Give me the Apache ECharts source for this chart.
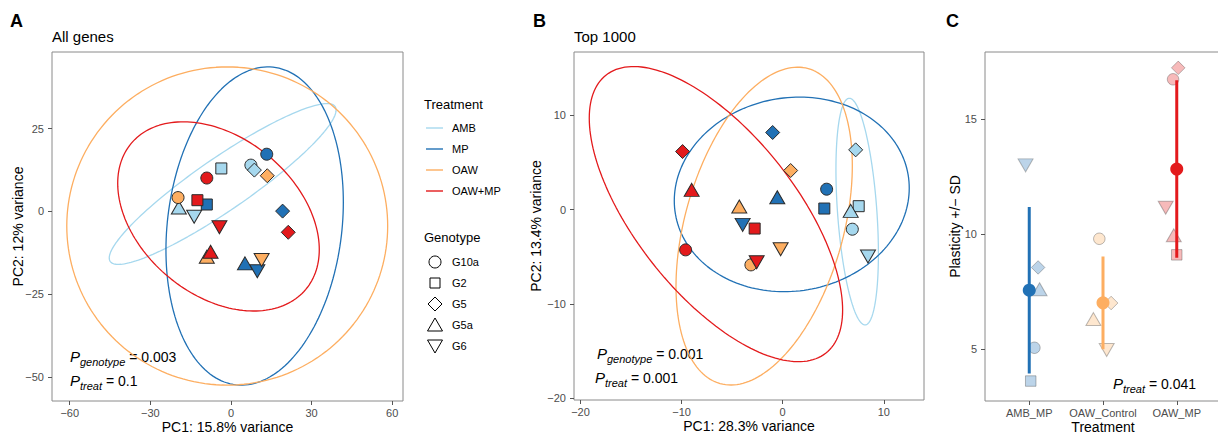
<!DOCTYPE html>
<html><head><meta charset="utf-8">
<script src="https://cdn.jsdelivr.net/npm/echarts@6/dist/echarts.min.js"></script>
<style>html,body{margin:0;padding:0;background:#fff}#c{width:1218px;height:434px}</style>
</head><body><div id="c"></div>
<script>
// ---------------- DATA ----------------
const treatments = ['AMB', 'MP', 'OAW', 'OAW+MP'];
const genotypes = ['G10a', 'G2', 'G5', 'G5a', 'G6'];

// Panel A (All genes): [PC1, PC2, genotype]
const allGenes_AMB   = [[7.4, 14.0, 'G10a'], [-3.6, 13.0, 'G2'], [8.7, 12.5, 'G5'], [-19.4, 1.2, 'G5a'], [-13.7, -1.6, 'G6']];
const allGenes_MP    = [[13.3, 17.3, 'G10a'], [-9.0, 2.1, 'G2'], [19.2, 0.1, 'G5'], [5.2, -15.7, 'G5a'], [9.8, -18.1, 'G6']];
const allGenes_OAW   = [[-19.7, 4.2, 'G10a'], [13.5, 10.8, 'G5'], [-9.0, -13.7, 'G5a'], [11.4, -14.7, 'G6']];
const allGenes_OAWMP = [[-9.0, 10.1, 'G10a'], [-12.5, 3.4, 'G2'], [21.3, -6.3, 'G5'], [-7.6, -12.2, 'G5a'], [-4.3, -4.8, 'G6']];

// Panel B (Top 1000): [PC1, PC2, genotype]
const top1000_AMB   = [[6.89, -2.08, 'G10a'], [7.52, 0.36, 'G2'], [7.22, 6.33, 'G5'], [6.73, -0.14, 'G5a'], [8.44, -4.98, 'G6']];
const top1000_MP    = [[4.35, 2.16, 'G10a'], [4.12, 0.11, 'G2'], [-0.99, 8.17, 'G5'], [-0.53, 1.31, 'G5a'], [-3.96, -1.62, 'G6']];
const top1000_OAW   = [[-3.14, -5.86, 'G10a'], [0.79, 4.14, 'G5'], [-4.29, 0.32, 'G5a'], [-0.2, -4.2, 'G6']];
const top1000_OAWMP = [[-9.6, -4.27, 'G10a'], [-2.77, -2.01, 'G2'], [-9.9, 6.15, 'G5'], [-9.0, 2.09, 'G5a'], [-2.57, -5.58, 'G6']];

// 95% ellipses: [centre x, centre y, half-range x, half-range y, correlation]
const ellipsesA = [[-3.1, 8.3, 42.2, 24.3, 0.92], [8.8, -4.4, 33.0, 48.1, 0.15], [-1.4, -4.4, 59.7, 48.1, 0.0], [-4.65, -1.5, 37.5, 28.6, -0.35]];
const ellipsesB = [[7.37, -0.21, 2.10, 12.01, -0.37], [0.9, 1.61, 11.62, 10.31, 0.065], [-1.83, -1.75, 8.72, 16.84, 0.38], [-6.6, -0.48, 12.53, 15.64, -0.65]];

// Panel C (Plasticity)
const plasticityGroups = ['AMB_MP', 'OAW_Control', 'OAW_MP'];
const plasticity_AMB_MP = [13.0, 8.55, 7.6, 5.05, 3.6];
const genotype_AMB_MP   = ['G6', 'G5', 'G5a', 'G10a', 'G2'];
const jitter_AMB_MP     = [-0.05, 0.12, 0.14, 0.07, 0.02];
const plasticity_OAW_Control = [9.8, 7.0, 6.3, 4.95];
const genotype_OAW_Control   = ['G10a', 'G5', 'G5a', 'G6'];
const jitter_OAW_Control     = [-0.05, 0.11, -0.13, 0.05];
const plasticity_OAW_MP = [17.25, 16.75, 11.15, 9.95, 9.1];
const genotype_OAW_MP   = ['G5', 'G10a', 'G6', 'G5a', 'G2'];
const jitter_OAW_MP     = [0.02, -0.05, -0.15, -0.04, 0.0];
const plasticityMean = [7.56, 7.01, 12.84];
const plasticitySD   = [3.63, 2.02, 3.87];

const ticksA_x = [-60, -30, 0, 30, 60];
const ticksA_y = [-50, -25, 0, 25];
const ticksB_x = [-20, -10, 0, 10];
const ticksB_y = [-20, -10, 0, 10];
const ticksC_y = [5, 10, 15];

// ---------------- STYLE ----------------
const FONT = "'Liberation Sans', Arial, Helvetica, sans-serif";
const COLORS = { 'AMB': '#a6d8ee', 'MP': '#2171b5', 'OAW': '#fdae61', 'OAW+MP': '#e31a1c' };
const C_COLORS = ['#2171b5', '#fdae61', '#e31a1c'];
const SHAPES = {
  G10a: { symbol: 'circle', size: 12, rot: 0 },
  G2:   { symbol: 'rect', size: 11, rot: 0 },
  G5:   { symbol: 'diamond', size: 14, rot: 0 },
  G5a:  { symbol: 'triangle', size: [15, 13], rot: 0 },
  G6:   { symbol: 'triangle', size: [15, 13], rot: 180 }
};
const minus = v => String(v).replace('-', '\u2212');

function ellipsePoints(p) {
  const [cx, cy, rx, ry, rho] = p;
  const pts = [];
  const s = Math.sqrt(1 - rho * rho);
  for (let i = 0; i <= 180; i++) {
    const t = i / 180 * 2 * Math.PI;
    pts.push([cx + rx * Math.cos(t), cy + ry * (rho * Math.cos(t) + s * Math.sin(t))]);
  }
  return pts;
}

function pcaScatter(data, treat, idx) {
  return {
    type: 'scatter', xAxisIndex: idx, yAxisIndex: idx, z: 5, animation: false,
    data: data.map(d => ({
      value: [d[0], d[1]],
      symbol: SHAPES[d[2]].symbol, symbolSize: SHAPES[d[2]].size, symbolRotate: SHAPES[d[2]].rot,
      itemStyle: { color: COLORS[treat], borderColor: '#2b2b2b', borderWidth: 1, opacity: 1 }
    }))
  };
}
function ellipseSeries(p, treat, idx) {
  return {
    type: 'line', xAxisIndex: idx, yAxisIndex: idx, z: 2, animation: false, silent: true,
    showSymbol: false, symbol: 'none', data: ellipsePoints(p),
    lineStyle: { color: COLORS[treat], width: 1.3 }
  };
}

const tickLabel = { color: '#4d4d4d', fontSize: 11, fontFamily: FONT };
function valueAxis(idx, min, max, ticks, name, gap, margin) {
  return {
    type: 'value', gridIndex: idx, min: min, max: max,
    name: name, nameLocation: 'middle', nameGap: gap, nameMoveOverlap: false,
    nameTextStyle: { color: '#000', fontSize: 14, fontFamily: FONT },
    axisLine: { show: false, onZero: false },
    axisTick: { show: true, length: 4, lineStyle: { color: '#555' }, customValues: ticks },
    axisLabel: Object.assign({ margin: margin, customValues: ticks, formatter: v => minus(v) }, tickLabel),
    splitLine: { show: false }
  };
}

const series = [];
const panelA = [allGenes_AMB, allGenes_MP, allGenes_OAW, allGenes_OAWMP];
const panelB = [top1000_AMB, top1000_MP, top1000_OAW, top1000_OAWMP];
treatments.forEach((t, i) => {
  series.push(ellipseSeries(ellipsesA[i], t, 0));
  series.push(ellipseSeries(ellipsesB[i], t, 1));
});
treatments.forEach((t, i) => {
  series.push(pcaScatter(panelA[i], t, 0));
  series.push(pcaScatter(panelB[i], t, 1));
});

// Panel C
const cVals = [plasticity_AMB_MP, plasticity_OAW_Control, plasticity_OAW_MP];
const cGeno = [genotype_AMB_MP, genotype_OAW_Control, genotype_OAW_MP];
const cJit  = [jitter_AMB_MP, jitter_OAW_Control, jitter_OAW_MP];
const fade = (hex, a) => {
  const n = parseInt(hex.slice(1), 16);
  return `rgba(${(n >> 16) & 255},${(n >> 8) & 255},${n & 255},${a})`;
};
plasticityGroups.forEach((g, i) => {
  series.push({
    type: 'scatter', xAxisIndex: 2, yAxisIndex: 2, z: 3, animation: false,
    data: cVals[i].map((v, k) => ({
      value: [i + 1 + cJit[i][k], v],
      symbol: SHAPES[cGeno[i][k]].symbol,
      symbolSize: Array.isArray(SHAPES[cGeno[i][k]].size) ? SHAPES[cGeno[i][k]].size : SHAPES[cGeno[i][k]].size - 0.5,
      symbolRotate: SHAPES[cGeno[i][k]].rot,
      itemStyle: { color: fade(C_COLORS[i], 0.3), borderColor: 'rgba(60,60,60,0.35)', borderWidth: 1, opacity: 1 }
    }))
  });
  series.push({
    type: 'line', xAxisIndex: 2, yAxisIndex: 2, z: 4, animation: false, silent: true,
    showSymbol: false, symbol: 'none',
    data: [[i + 1, plasticityMean[i] - plasticitySD[i]], [i + 1, plasticityMean[i] + plasticitySD[i]]],
    lineStyle: { color: C_COLORS[i], width: 3 }
  });
  series.push({
    type: 'scatter', xAxisIndex: 2, yAxisIndex: 2, z: 5, animation: false,
    data: [[i + 1, plasticityMean[i]]], symbol: 'circle', symbolSize: 13,
    itemStyle: { color: C_COLORS[i], opacity: 1 }
  });
});

// ---------------- GRAPHICS (titles, legend, annotations) ----------------
const txt = (x, y, text, opts) => ({
  type: 'text', x: x, y: y, silent: true,
  style: Object.assign({ text: text, fill: '#000', font: `14px ${FONT}`, align: 'left', verticalAlign: 'middle', textAlign: 'left', textVerticalAlign: 'middle' }, opts || {})
});
const richP = {
  p: { fontSize: 15, fontStyle: 'italic', fontFamily: FONT, color: '#000', padding: [0, 0, 4, 0], verticalAlign: 'bottom' },
  s: { fontSize: 11, fontStyle: 'italic', fontFamily: FONT, color: '#000', verticalAlign: 'bottom' },
  v: { fontSize: 14, fontFamily: FONT, color: '#000', padding: [0, 0, 4, 0], verticalAlign: 'bottom' }
};
const pAnn = (x, y, sub, val) => ({
  type: 'text', x: x, y: y, silent: true,
  style: { text: `{p|P}{s|${sub}}{v| = ${val}}`, rich: richP, align: 'left', verticalAlign: 'middle', textAlign: 'left', textVerticalAlign: 'middle' }
});

const graphics = [
  txt(10, 21, 'A', { font: `bold 18px ${FONT}` }),
  txt(533, 21, 'B', { font: `bold 18px ${FONT}` }),
  txt(946, 21, 'C', { font: `bold 18px ${FONT}` }),
  txt(52, 36, 'All genes', { font: `15px ${FONT}` }),
  txt(574, 36, 'Top 1000', { font: `15px ${FONT}` }),
  txt(424, 104, 'Treatment', { font: `13px ${FONT}` }),
  txt(424, 237, 'Genotype', { font: `13px ${FONT}` }),
  pAnn(70, 358, 'genotype', '0.003'),
  pAnn(70, 382, 'treat', '0.1'),
  pAnn(597, 355, 'genotype', '0.001'),
  pAnn(595, 379, 'treat', '0.001'),
  pAnn(1113, 385, 'treat', '0.041')
];
const legY = [128, 149, 170, 191];
treatments.forEach((t, i) => {
  graphics.push({ type: 'line', silent: true, shape: { x1: 426, y1: legY[i], x2: 443, y2: legY[i] }, style: { stroke: COLORS[t], lineWidth: 1.4 } });
  graphics.push(txt(452, legY[i], t, { font: `11px ${FONT}` }));
});
const gY = [262, 283, 304, 325, 346];
const kx = 435;
graphics.push({ type: 'circle', silent: true, shape: { cx: kx, cy: gY[0], r: 6 }, style: { fill: '#fff', stroke: '#000', lineWidth: 1 } });
graphics.push({ type: 'rect', silent: true, shape: { x: kx - 5, y: gY[1] - 5, width: 10, height: 10 }, style: { fill: '#fff', stroke: '#000', lineWidth: 1 } });
graphics.push({ type: 'polygon', silent: true, shape: { points: [[kx, gY[2] - 7], [kx + 7, gY[2]], [kx, gY[2] + 7], [kx - 7, gY[2]]] }, style: { fill: '#fff', stroke: '#000', lineWidth: 1 } });
graphics.push({ type: 'polygon', silent: true, shape: { points: [[kx, gY[3] - 7], [kx + 7.5, gY[3] + 6], [kx - 7.5, gY[3] + 6]] }, style: { fill: '#fff', stroke: '#000', lineWidth: 1 } });
graphics.push({ type: 'polygon', silent: true, shape: { points: [[kx, gY[4] + 7], [kx + 7.5, gY[4] - 6], [kx - 7.5, gY[4] - 6]] }, style: { fill: '#fff', stroke: '#000', lineWidth: 1 } });
genotypes.forEach((g, i) => graphics.push(txt(452, gY[i], g, { font: `11px ${FONT}` })));

// ---------------- OPTION ----------------
const gridBase = { show: true, borderColor: '#8a8a8a', borderWidth: 1, backgroundColor: 'transparent', containLabel: false, outerBoundsMode: 'none' };
const option = {
  backgroundColor: '#fff',
  animation: false,
  textStyle: { fontFamily: FONT },
  grid: [
    Object.assign({ left: 52, top: 52, width: 351, height: 349 }, gridBase),
    Object.assign({ left: 574, top: 52, width: 350, height: 348 }, gridBase),
    Object.assign({ left: 985, top: 52, width: 236, height: 349 }, gridBase)
  ],
  xAxis: [
    valueAxis(0, -66.6, 64.0, ticksA_x, 'PC1: 15.8% variance', 19, 6),
    valueAxis(1, -20.64, 13.98, ticksB_x, 'PC1: 28.3% variance', 19, 6),
    Object.assign(valueAxis(2, 0.4, 3.6, [1, 2, 3], 'Treatment', 19, 6), {
      axisLabel: Object.assign({ margin: 6, customValues: [1, 2, 3], formatter: v => plasticityGroups[Math.round(v) - 1] || '' }, tickLabel)
    })
  ],
  yAxis: [
    valueAxis(0, -57.3, 48.2, ticksA_y, 'PC2: 12% variance', 27, 8),
    valueAxis(1, -20.18, 16.7, ticksB_y, 'PC2: 13.4% variance', 31, 8),
    valueAxis(2, 2.73, 17.94, ticksC_y, 'Plasticity +/\u2212 SD', 23, 8)
  ],
  series: series,
  graphic: graphics
};

const chart = echarts.init(document.getElementById('c'), null, { renderer: 'svg' });
chart.setOption(option);
</script>
</body></html>
